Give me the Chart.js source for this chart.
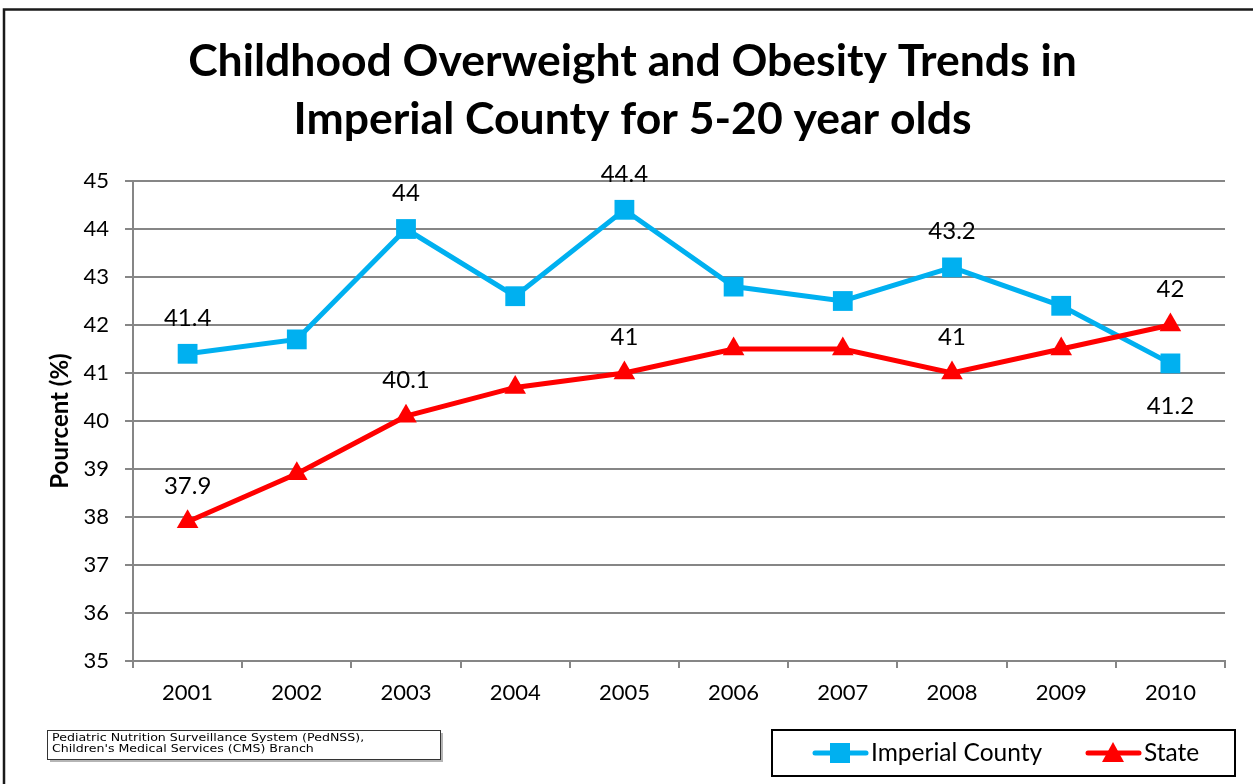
<!DOCTYPE html>
<html>
<head>
<meta charset="utf-8">
<script src="https://cdn.jsdelivr.net/npm/chart.js@4"></script>
<style>
  html, body { margin: 0; padding: 0; background: #fff; }
  #wrap { width: 1253px; height: 784px; position: relative; }
</style>
</head>
<body>
<div id="wrap"><canvas id="obesityChart" width="1253" height="784"></canvas></div>
<script>
// data
const years = ["2001", "2002", "2003", "2004", "2005", "2006", "2007", "2008", "2009", "2010"];
const imperialCounty = [41.4, 41.7, 44, 42.6, 44.4, 42.8, 42.5, 43.2, 42.4, 41.2];
const stateValues = [37.9, 38.9, 40.1, 40.7, 41, 41.5, 41.5, 41, 41.5, 42];
// which points get a value label, and where
const imperialLabelPos = ["above", null, "above", null, "above", null, null, "above", null, "below"];
const stateLabelPos = ["above", null, "above", null, "above", null, null, "above", null, "above"];
const yTicks = { min: 35, max: 45, step: 1 };

const BLUE = "#00B0F0";
const RED = "#FF0000";
const GRID = "#868686";
const FONT = "Lato, 'Open Sans', sans-serif";

// frame, source note and legend drawn around the chart
const framePlugin = {
    id: "frame",
    beforeDraw(chart) {
        const ctx = chart.ctx;
        ctx.save();
        ctx.fillStyle = "#fff";
        ctx.fillRect(0, 0, chart.width, chart.height);
        ctx.strokeStyle = "#1a1a1a";
        ctx.lineWidth = 2.5;
        ctx.beginPath();
        ctx.moveTo(chart.width, 9.5);
        ctx.lineTo(4, 9.5);
        ctx.lineTo(4, chart.height);
        ctx.stroke();
        ctx.restore();
    },
    afterDraw(chart) {
        const ctx = chart.ctx;
        ctx.save();

        // source box
        ctx.fillStyle = "#b5b5b5";
        ctx.fillRect(50, 733, 393, 29);
        ctx.fillStyle = "#fff";
        ctx.fillRect(47.5, 730.5, 393, 29);
        ctx.strokeStyle = "#333";
        ctx.lineWidth = 1;
        ctx.strokeRect(47.5, 730.5, 393, 29);
        ctx.fillStyle = "#000";
        ctx.font = "10px 'DejaVu Sans', Verdana, sans-serif";
        ctx.textBaseline = "middle";
        ctx.textAlign = "left";
        ctx.save();
        ctx.translate(52, 0);
        ctx.scale(1.26, 1);
        ctx.fillText("Pediatric Nutrition Surveillance System (PedNSS),", 0, 738.5);
        ctx.fillText("Children's Medical Services (CMS) Branch", 0, 749);
        ctx.restore();

        // legend box
        ctx.strokeStyle = "#000";
        ctx.lineWidth = 2;
        ctx.strokeRect(772, 730, 463, 46);

        const ly = 753;
        ctx.lineCap = "round";
        ctx.lineWidth = 5;
        ctx.strokeStyle = BLUE;
        ctx.beginPath();
        ctx.moveTo(815, ly);
        ctx.lineTo(866, ly);
        ctx.stroke();
        ctx.fillStyle = BLUE;
        ctx.fillRect(830, ly - 10, 20, 20);

        ctx.strokeStyle = RED;
        ctx.beginPath();
        ctx.moveTo(1088, ly);
        ctx.lineTo(1139, ly);
        ctx.stroke();
        ctx.fillStyle = RED;
        ctx.beginPath();
        ctx.moveTo(1113, ly - 11);
        ctx.lineTo(1124, ly + 9);
        ctx.lineTo(1102, ly + 9);
        ctx.closePath();
        ctx.fill();

        ctx.fillStyle = "#000";
        ctx.font = "24.5px " + FONT;
        ctx.textBaseline = "middle";
        ctx.fillText("Imperial County", 871, ly);
        ctx.fillText("State", 1144, ly);
        ctx.restore();
    }
};

// value labels on chosen points
const valueLabelPlugin = {
    id: "valueLabels",
    afterDatasetsDraw(chart) {
        const ctx = chart.ctx;
        ctx.save();
        ctx.font = "24px " + FONT;
        ctx.fillStyle = "#000";
        ctx.textAlign = "center";
        ctx.textBaseline = "middle";
        chart.data.datasets.forEach((ds, di) => {
            const meta = chart.getDatasetMeta(di);
            ds.labelPos.forEach((pos, i) => {
                if (!pos) return;
                const pt = meta.data[i];
                const dy = pos === "above" ? -36 : 43;
                ctx.fillText(String(ds.data[i]), pt.x, pt.y + dy);
            });
        });
        ctx.restore();
    }
};

new Chart(document.getElementById("obesityChart"), {
    type: "line",
    data: {
        labels: years,
        datasets: [
            {
                label: "Imperial County",
                data: imperialCounty,
                labelPos: imperialLabelPos,
                borderColor: BLUE,
                backgroundColor: BLUE,
                borderWidth: 5,
                pointStyle: "rect",
                pointRadius: 14,
                pointBorderWidth: 0,
                pointHoverRadius: 14,
                tension: 0,
                order: 1
            },
            {
                label: "State",
                data: stateValues,
                labelPos: stateLabelPos,
                borderColor: RED,
                backgroundColor: RED,
                borderWidth: 5,
                pointStyle: "triangle",
                pointRadius: 12.5,
                pointBorderWidth: 0,
                pointHoverRadius: 12.5,
                tension: 0,
                order: 0
            }
        ]
    },
    options: {
        responsive: false,
        animation: false,
        events: [],
        layout: { padding: { left: 40, right: 28, top: 0, bottom: 0 } },
        plugins: {
            legend: { display: false },
            tooltip: { enabled: false },
            title: {
                display: true,
                text: ["Childhood Overweight and Obesity Trends in", "Imperial County for 5-20 year olds"],
                color: "#000",
                font: { family: FONT, size: 44.5, weight: "bold", lineHeight: 58 / 44.5 },
                padding: { top: 33, bottom: 32 }
            }
        },
        scales: {
            x: {
                offset: true,
                grid: {
                    offset: true,
                    drawOnChartArea: false,
                    drawTicks: true,
                    tickLength: 7,
                    color: GRID,
                    lineWidth: 2
                },
                border: { display: true, color: GRID, width: 2 },
                ticks: {
                    color: "#000",
                    font: { family: FONT, size: 22 },
                    padding: 12,
                    maxRotation: 0
                },
                afterFit(scale) { scale.height = 123; }
            },
            y: {
                min: yTicks.min,
                max: yTicks.max,
                grid: { color: GRID, lineWidth: 2, tickLength: 8 },
                border: { display: true, color: GRID, width: 2 },
                ticks: {
                    stepSize: yTicks.step,
                    color: "#000",
                    font: { family: FONT, size: 22 },
                    padding: 16
                },
                title: {
                    display: true,
                    text: "Pourcent (%)",
                    color: "#000",
                    font: { family: FONT, size: 24, weight: "bold", lineHeight: 1.2 },
                    padding: { top: 6, bottom: 0 }
                },
                afterFit(scale) { scale.width = 93; }
            }
        }
    },
    plugins: [framePlugin, valueLabelPlugin]
});
</script>
</body>
</html>
